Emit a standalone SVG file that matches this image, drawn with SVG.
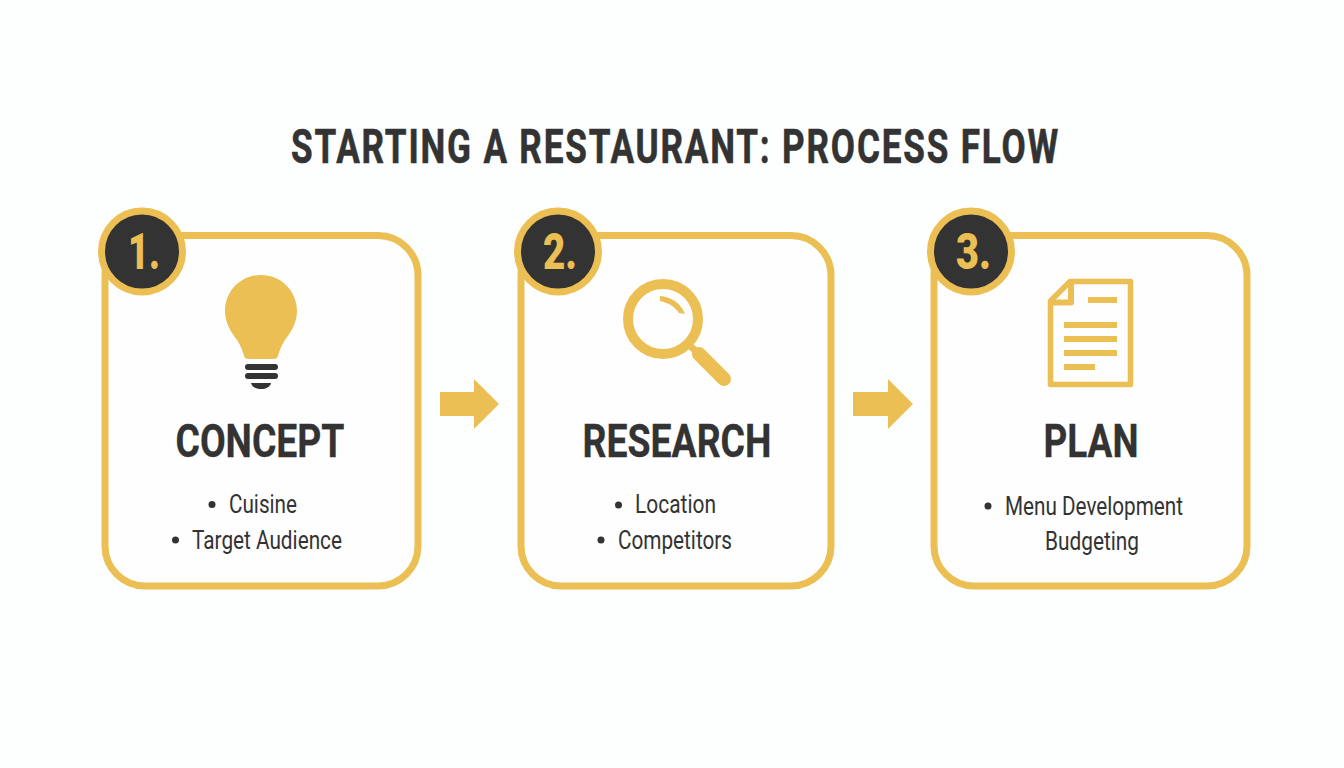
<svg xmlns="http://www.w3.org/2000/svg" width="1344" height="768" viewBox="0 0 1344 768">
<style>
.card{fill:#fefefe;stroke:#ebbf53;stroke-width:7}
.badge{fill:#333333;stroke:#ebbf53;stroke-width:7}
.num{font-family:"Roboto","Liberation Sans",sans-serif;font-weight:900;font-size:50px;fill:#ebbf53;text-anchor:start}
.title{font-family:"Roboto","Liberation Sans",sans-serif;font-weight:700;font-size:48px;letter-spacing:2.500px;fill:#333333;stroke:#333333;stroke-width:0.600px;text-anchor:start}
.head{font-family:"Roboto","Liberation Sans",sans-serif;font-weight:700;font-size:47px;fill:#333333;stroke:#333333;stroke-width:0.300px;text-anchor:middle}
.item{font-family:"Roboto","Liberation Sans",sans-serif;font-weight:400;font-size:26px;fill:#333333;text-anchor:start}
.dot{fill:#333333}
.y{fill:#ebbf53}
.ys{fill:none;stroke:#ebbf53}
.d{fill:#333333}
</style>
<rect width="1344" height="768" fill="#fdfefe"/>
<text class="title" x="291" y="163" textLength="769" lengthAdjust="spacingAndGlyphs">STARTING A RESTAURANT: PROCESS FLOW</text>
<g id="connectors">
<path id="arrow-1" class="y" d="M440 392H474V379L499 404L474 429V416H440Z"/>
<path id="arrow-2" class="y" d="M853 392H888V379L913 404L888 429V416H853Z"/>
</g>
<g id="node-concept">
<rect class="card" x="105" y="235.500" width="313" height="350.500" rx="40"/>
<circle class="badge" cx="142" cy="251.500" r="40.500"/>
<text class="num" x="128" y="269" textLength="32" lengthAdjust="spacingAndGlyphs">1.</text>
<path class="y" d="M261 275C241 275 225 291 225 311C225 323 231 332 237 340C241 346 243 352 244 356Q245 359 248 359H274Q277 359 278 356C279 352 281 346 285 340C291 332 297 323 297 311C297 291 281 275 261 275Z"/>
<rect class="d" x="245" y="364" width="33" height="6" rx="3"/>
<rect class="d" x="245" y="373" width="33" height="6" rx="3"/>
<path class="d" d="M251 383H271C270 387 266 389 261 389C256 389 252 387 251 383Z"/>
<text class="head" x="260" y="457" textLength="169" lengthAdjust="spacingAndGlyphs">CONCEPT</text>
<circle class="dot" cx="212" cy="504.500" r="3.500"/>
<text class="item" x="229" y="513" textLength="68" lengthAdjust="spacingAndGlyphs">Cuisine</text>
<circle class="dot" cx="175.500" cy="540" r="3.500"/>
<text class="item" x="192" y="549" textLength="150" lengthAdjust="spacingAndGlyphs">Target Audience</text>
</g>
<g id="node-research">
<rect class="card" x="521" y="235.500" width="310" height="350.500" rx="40"/>
<circle class="badge" cx="558" cy="251.500" r="40.500"/>
<text class="num" x="543" y="269" textLength="34" lengthAdjust="spacingAndGlyphs">2.</text>
<circle cx="663" cy="319" r="35" class="ys" stroke-width="10"/>
<path class="y" d="M660 296C671 297 681 303 685 314L679 313C675 307 669 303 660 301Z"/>
<path class="ys" d="M688 344L698 353" stroke-width="7"/>
<path class="ys" d="M699 354L724 379" stroke-width="14" stroke-linecap="round"/>
<text class="head" x="677" y="457" textLength="189" lengthAdjust="spacingAndGlyphs">RESEARCH</text>
<circle class="dot" cx="618.500" cy="505" r="3.500"/>
<text class="item" x="635" y="513" textLength="81" lengthAdjust="spacingAndGlyphs">Location</text>
<circle class="dot" cx="601" cy="540" r="3.500"/>
<text class="item" x="618" y="549" textLength="114" lengthAdjust="spacingAndGlyphs">Competitors</text>
</g>
<g id="node-plan">
<rect class="card" x="934" y="235.500" width="313" height="350.500" rx="40"/>
<circle class="badge" cx="971" cy="251.500" r="40.500"/>
<text class="num" x="956" y="269" textLength="35" lengthAdjust="spacingAndGlyphs">3.</text>
<path class="ys" d="M1070 281.500H1130.500V384.500H1050.500V301Z" stroke-width="5.500" stroke-linejoin="round"/>
<path class="ys" d="M1071 282V302.500H1051" stroke-width="6" stroke-linejoin="round"/>
<g class="y">
<rect x="1088" y="297" width="29" height="6"/>
<rect x="1064" y="322" width="53" height="6"/>
<rect x="1064" y="336" width="53" height="6"/>
<rect x="1064" y="350" width="53" height="6"/>
<rect x="1064" y="364" width="31" height="6"/>
</g>
<text class="head" x="1091" y="457" textLength="95" lengthAdjust="spacingAndGlyphs">PLAN</text>
<circle class="dot" cx="988" cy="506" r="3.500"/>
<text class="item" x="1005" y="515" textLength="178" lengthAdjust="spacingAndGlyphs">Menu Development</text>
<text class="item" x="1045" y="550" textLength="94" lengthAdjust="spacingAndGlyphs">Budgeting</text>
</g>
</svg>
